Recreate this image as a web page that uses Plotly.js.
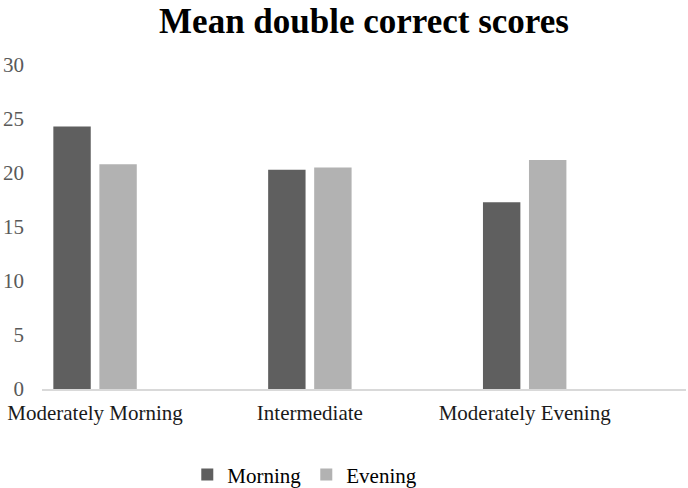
<!DOCTYPE html>
<html>
<head>
<meta charset="utf-8">
<script src="https://cdn.plot.ly/plotly-3.0.1.min.js"></script>
<style>html,body{margin:0;padding:0;background:#fff;}#chart{width:688px;height:488px;}</style>
</head>
<body>
<div id="chart"></div>
<script>
const categories = ["Moderately Morning", "Intermediate", "Moderately Evening"];
const seriesNames = ["Morning", "Evening"];
const morningValues = [24.3, 20.3, 17.3];
const eveningValues = [20.8, 20.5, 21.2];
const yTicks = [0, 5, 10, 15, 20, 25, 30];

const FONT = "Liberation Serif, Times New Roman, serif";

const data = [
  {type: "bar", name: seriesNames[0], x: categories, y: morningValues,
   marker: {color: "#5f5f5f", line: {width: 0}}, hoverinfo: "skip"},
  {type: "bar", name: seriesNames[1], x: categories, y: eveningValues,
   marker: {color: "#b2b2b2", line: {width: 0}}, hoverinfo: "skip"}
];

const layout = {
  width: 688, height: 488,
  paper_bgcolor: "#ffffff", plot_bgcolor: "#ffffff",
  font: {family: FONT, size: 21, color: "#000000"},
  margin: {l: 42, r: 2, t: 65, b: 99, pad: 0},
  title: {text: "<b>Mean double correct scores</b>", font: {family: FONT, size: 35, color: "#000000"},
          xref: "paper", x: 0.5, xanchor: "center", yref: "container", y: 0.958, yanchor: "middle"},
  barmode: "group", bargap: 0.5715, bargroupgap: 0.187,
  xaxis: {type: "category", range: [-0.247, 2.751], showgrid: false, zeroline: false,
          showline: true, linecolor: "#d9d9d9", linewidth: 1.5, ticks: "", ticklabelstandoff: 4,
          tickfont: {family: FONT, size: 21, color: "#1a1a1a"}, fixedrange: true},
  yaxis: {range: [0, 30], tickvals: yTicks, showgrid: false, zeroline: false, showline: false,
          ticks: "", ticklabelstandoff: 17,
          tickfont: {family: FONT, size: 21, color: "#595959"}, fixedrange: true},
  showlegend: true,
  legend: {orientation: "h", xref: "container", yref: "container", x: 0.443, xanchor: "center",
           y: 0.027, yanchor: "middle", font: {family: FONT, size: 21, color: "#000000"},
           bgcolor: "rgba(0,0,0,0)"}
};

Plotly.newPlot("chart", data, layout, {displayModeBar: false, staticPlot: true});
</script>
</body>
</html>
